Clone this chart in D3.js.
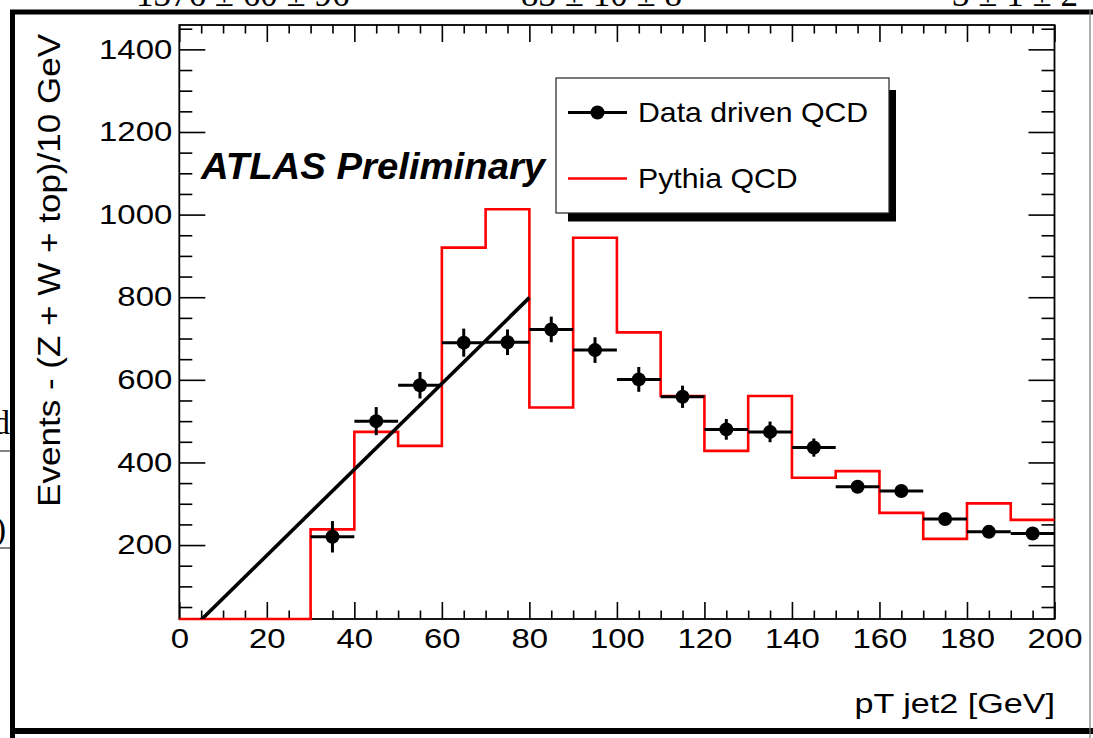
<!DOCTYPE html>
<html>
<head>
<meta charset="utf-8">
<script src="https://cdn.jsdelivr.net/npm/d3@7"></script>
<style>
  html, body { margin: 0; padding: 0; background: #fff; }
  svg { display: block; }
  text { font-family: "Liberation Sans", Arial, Helvetica, sans-serif; fill: #000; }
  .serif { font-family: "Liberation Serif", "Times New Roman", serif; }
</style>
</head>
<body>
<svg id="chart" width="1093" height="738"></svg>
<script>
// ---- Data: second-jet pT, events after subtracting Z + W + top ----
const binWidth = 10;

// Data-driven QCD estimate (points at bin centres, GeV)
const dataCenters = [35, 45, 55, 65, 75, 85, 95, 105, 115, 125, 135, 145, 155, 165, 175, 185, 195];
const dataValues  = [220, 500, 587, 690, 691, 722, 672, 601, 559, 480, 474, 436, 341, 331, 263, 232, 228];
const dataErrors  = [38, 34, 32, 34, 31, 31, 31, 30, 27, 25, 25, 22, 15, 14, 12, 11, 11];

// Pythia QCD histogram (lower bin edges, GeV)
const pythiaEdges  = [0, 10, 20, 30, 40, 50, 60, 70, 80, 90, 100, 110, 120, 130, 140, 150, 160, 170, 180, 190];
const pythiaValues = [0, 0, 0, 238, 474, 440, 920, 1013, 533, 944, 715, 561, 428, 561, 363, 379, 278, 215, 301, 261];

// Linear fit to the low-pT rise
const fitRange = [0, 80];
const fitSlope = 10.4;
const fitIntercept = -33;

// Axes
const xDomain = [0, 200];
const yDomain = [21, 1459];
const xMajorTicks = [0, 20, 40, 60, 80, 100, 120, 140, 160, 180, 200];
const yMajorTicks = [200, 400, 600, 800, 1000, 1200, 1400];

// Text
const xTitle = "pT jet2 [GeV]";
const yTitle = "Events - (Z + W + top)/10 GeV";
const atlasLabel = "ATLAS Preliminary";
const legendLabels = ["Data driven QCD", "Pythia QCD"];

// Fragments of the surrounding page
const pageTopTexts = ["1376 \u00b1 60 \u00b1 96", "83 \u00b1 10 \u00b1 8", "3 \u00b1 1 \u00b1 2"];
const pageLeftTexts = ["d", ")"];

// ---- Layout ----
const svg = d3.select("#chart");
const plot = { left: 179.3, right: 1054.5, top: 25, bottom: 619 };

const x = d3.scaleLinear().domain(xDomain).range([plot.left, plot.right]);
const y = d3.scaleLinear().domain(yDomain).range([plot.bottom, plot.top]);
const yClamped = y.copy().clamp(true);

// horizontal widening applied to text (the type is set wide)
const SX = 1.22;

function stretchLabels(g, sx) {
  g.selectAll(".tick text").each(function () {
    const t = d3.select(this);
    const x0 = +t.attr("x") || 0;
    t.attr("x", x0 / sx).attr("transform", `scale(${sx},1)`);
  });
}

// ---- Page frame and fragments ----
const page = svg.append("g");
page.selectAll("text.top")
  .data(pageTopTexts)
  .join("text")
  .attr("class", "serif")
  .attr("font-size", 35)
  .attr("x", (d, i) => [136, 521, 952][i])
  .attr("y", 6)
  .text(d => d);

page.selectAll("text.left")
  .data(pageLeftTexts)
  .join("text")
  .attr("class", "serif")
  .attr("font-size", 34)
  .attr("text-anchor", "end")
  .attr("x", (d, i) => [10, 6][i])
  .attr("y", (d, i) => [434, 540][i])
  .text(d => d);

page.selectAll("line.rule")
  .data([451, 548])
  .join("line")
  .attr("x1", 0).attr("x2", 11)
  .attr("y1", d => d).attr("y2", d => d)
  .attr("stroke", "#333").attr("stroke-width", 1.2);

page.append("line").attr("x1", 10).attr("x2", 1093).attr("y1", 12).attr("y2", 12)
  .attr("stroke", "#000").attr("stroke-width", 5);
page.append("line").attr("x1", 12.5).attr("x2", 12.5).attr("y1", 10).attr("y2", 738)
  .attr("stroke", "#000").attr("stroke-width", 5);
page.append("line").attr("x1", 10).attr("x2", 1093).attr("y1", 731).attr("y2", 731)
  .attr("stroke", "#000").attr("stroke-width", 6);
page.append("line").attr("x1", 1090).attr("x2", 1090).attr("y1", 10).attr("y2", 738)
  .attr("stroke", "#777").attr("stroke-width", 1.2);

// ---- Clip for the plot area (slightly padded so edge strokes stay whole) ----
const defs = svg.append("defs");
defs.append("clipPath").attr("id", "plotClip")
  .append("rect")
  .attr("x", plot.left - 2).attr("y", plot.top - 2)
  .attr("width", plot.right - plot.left + 4).attr("height", plot.bottom - plot.top + 4);
defs.append("clipPath").attr("id", "fitClip")
  .append("rect")
  .attr("x", plot.left).attr("y", plot.top)
  .attr("width", plot.right - plot.left).attr("height", plot.bottom - plot.top);

// ---- Axes (ticks point inward) ----
const xMinor = d3.range(0, 201, 5).filter(v => v % 20 !== 0);
const yMinor = d3.range(50, 1451, 50).filter(v => v % 200 !== 0);
const tickFont = 27;
const axisG = svg.append("g");

function styleAxis(g) {
  g.select(".domain").remove();
  g.selectAll(".tick line").attr("stroke", "#000").attr("stroke-width", 1.6);
  g.selectAll(".tick text").attr("font-size", tickFont).attr("fill", "#000")
    .attr("font-family", '"Liberation Sans", Arial, Helvetica, sans-serif');
}

// bottom
const gx = axisG.append("g").attr("transform", `translate(0,${plot.bottom})`)
  .call(d3.axisBottom(x).tickValues(xMajorTicks).tickFormat(d3.format("d"))
    .tickSizeInner(-17).tickSizeOuter(0).tickPadding(10));
styleAxis(gx);
stretchLabels(gx, SX);
axisG.append("g").attr("transform", `translate(0,${plot.bottom})`)
  .call(d3.axisBottom(x).tickValues(xMinor).tickFormat("").tickSizeInner(-8.5).tickSizeOuter(0))
  .call(styleAxis);

// top
axisG.append("g").attr("transform", `translate(0,${plot.top})`)
  .call(d3.axisTop(x).tickValues(xMajorTicks).tickFormat("").tickSizeInner(-17).tickSizeOuter(0))
  .call(styleAxis);
axisG.append("g").attr("transform", `translate(0,${plot.top})`)
  .call(d3.axisTop(x).tickValues(xMinor).tickFormat("").tickSizeInner(-8.5).tickSizeOuter(0))
  .call(styleAxis);

// left
const gy = axisG.append("g").attr("transform", `translate(${plot.left},0)`)
  .call(d3.axisLeft(y).tickValues(yMajorTicks).tickFormat(d3.format("d"))
    .tickSizeInner(-26).tickSizeOuter(0).tickPadding(7));
styleAxis(gy);
stretchLabels(gy, SX);
axisG.append("g").attr("transform", `translate(${plot.left},0)`)
  .call(d3.axisLeft(y).tickValues(yMinor).tickFormat("").tickSizeInner(-13).tickSizeOuter(0))
  .call(styleAxis);

// right
axisG.append("g").attr("transform", `translate(${plot.right},0)`)
  .call(d3.axisRight(y).tickValues(yMajorTicks).tickFormat("").tickSizeInner(-26).tickSizeOuter(0))
  .call(styleAxis);
axisG.append("g").attr("transform", `translate(${plot.right},0)`)
  .call(d3.axisRight(y).tickValues(yMinor).tickFormat("").tickSizeInner(-13).tickSizeOuter(0))
  .call(styleAxis);

// ---- Plot frame ----
svg.append("rect")
  .attr("x", plot.left).attr("y", plot.top)
  .attr("width", plot.right - plot.left).attr("height", plot.bottom - plot.top)
  .attr("fill", "none").attr("stroke", "#000").attr("stroke-width", 1.8);

// ---- Pythia histogram (drawn over the frame; empty bins sit on the lower edge) ----
const histPts = pythiaEdges.map((e, i) => [e, pythiaValues[i]]);
histPts.push([pythiaEdges[pythiaEdges.length - 1] + binWidth, pythiaValues[pythiaValues.length - 1]]);
const stepLine = d3.line()
  .x(d => x(d[0]))
  .y(d => yClamped(d[1]))
  .curve(d3.curveStepAfter);

const inner = svg.append("g").attr("clip-path", "url(#plotClip)");
inner.append("path")
  .datum(histPts)
  .attr("d", stepLine)
  .attr("fill", "none")
  .attr("stroke", "#ff0000")
  .attr("stroke-width", 2.6);

// ---- Fit line (clipped to the frame) ----
svg.append("line")
  .attr("clip-path", "url(#fitClip)")
  .attr("x1", x(fitRange[0])).attr("y1", y(fitIntercept + fitSlope * fitRange[0]))
  .attr("x2", x(fitRange[1])).attr("y2", y(fitIntercept + fitSlope * fitRange[1]))
  .attr("stroke", "#000").attr("stroke-width", 3.6);

// ---- Data points with errors ----
const pts = dataCenters.map((c, i) => ({ c, v: dataValues[i], e: dataErrors[i] }));
const pg = inner.append("g");
pg.selectAll("line.h").data(pts).join("line")
  .attr("x1", d => x(d.c - binWidth / 2)).attr("x2", d => x(d.c + binWidth / 2))
  .attr("y1", d => y(d.v)).attr("y2", d => y(d.v))
  .attr("stroke", "#000").attr("stroke-width", 3);
pg.selectAll("line.v").data(pts).join("line")
  .attr("x1", d => x(d.c)).attr("x2", d => x(d.c))
  .attr("y1", d => y(d.v - d.e)).attr("y2", d => y(d.v + d.e))
  .attr("stroke", "#000").attr("stroke-width", 3);
pg.selectAll("circle").data(pts).join("circle")
  .attr("cx", d => x(d.c)).attr("cy", d => y(d.v)).attr("r", 7)
  .attr("fill", "#000");

// ---- Axis titles ----
svg.append("text")
  .attr("transform", `translate(1055,713) scale(${SX},1)`)
  .attr("text-anchor", "end").attr("font-size", 28)
  .text(xTitle);

svg.append("text")
  .attr("transform", `translate(60,34) rotate(-90) scale(1.13,1)`)
  .attr("text-anchor", "end").attr("font-size", 31)
  .text(yTitle);

// ---- ATLAS label ----
svg.append("text")
  .attr("transform", `translate(201,179) scale(1.05,1)`)
  .attr("font-size", 36.5).attr("font-weight", "bold").attr("font-style", "italic")
  .text(atlasLabel);

// ---- Legend ----
const lg = { x: 556, y: 78, w: 333, h: 135 };
const leg = svg.append("g");
leg.append("path")
  .attr("d", `M${lg.x + 12},${lg.y + lg.h} H${lg.x + lg.w + 7} V${lg.y + lg.h + 8.5} H${lg.x + 12} Z M${lg.x + lg.w},${lg.y + 12} H${lg.x + lg.w + 7} V${lg.y + lg.h + 8.5} H${lg.x + lg.w} Z`)
  .attr("fill", "#000");
leg.append("rect")
  .attr("x", lg.x).attr("y", lg.y).attr("width", lg.w).attr("height", lg.h)
  .attr("fill", "#fff").attr("stroke", "#222").attr("stroke-width", 1.2);

const rows = [
  { label: legendLabels[0], cy: 112.5, color: "#000", marker: true, base: 122 },
  { label: legendLabels[1], cy: 178.5, color: "#ff0000", marker: false, base: 188 }
];
rows.forEach(r => {
  leg.append("line")
    .attr("x1", 568).attr("x2", 627).attr("y1", r.cy).attr("y2", r.cy)
    .attr("stroke", r.color).attr("stroke-width", r.marker ? 3 : 2.6);
  if (r.marker) {
    leg.append("circle").attr("cx", 597.5).attr("cy", r.cy).attr("r", 7).attr("fill", "#000");
  }
  leg.append("text")
    .attr("transform", `translate(638,${r.base}) scale(1.08,1)`)
    .attr("font-size", 28)
    .text(r.label);
});
</script>
</body>
</html>
